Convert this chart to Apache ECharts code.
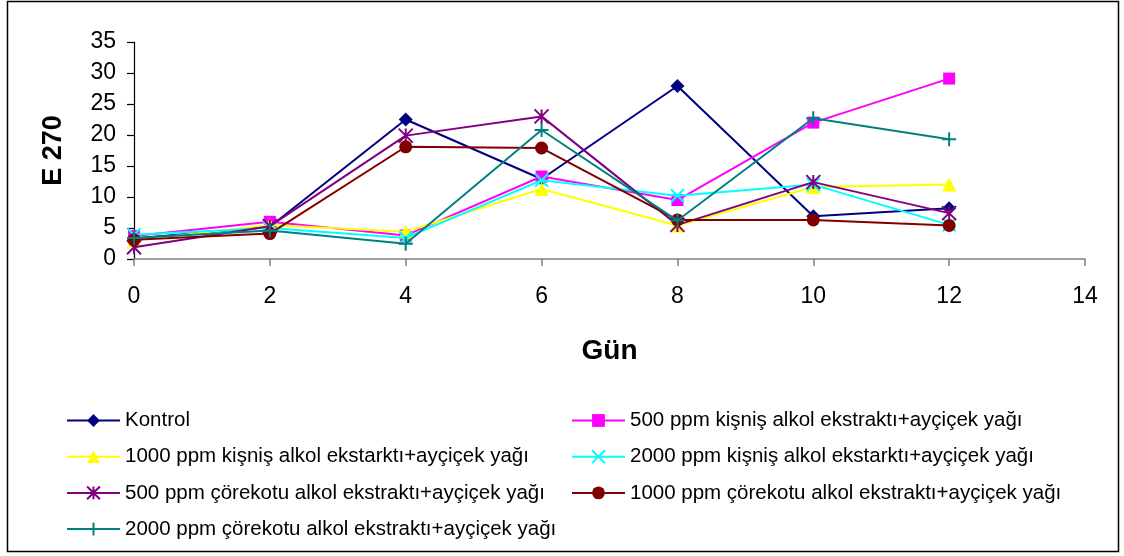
<!DOCTYPE html>
<html><head><meta charset="utf-8">
<script src="https://cdn.jsdelivr.net/npm/echarts@6/dist/echarts.min.js"></script>
<style>html,body{margin:0;padding:0;background:#fff}#c{width:1124px;height:556px}</style>
</head><body><div id="c"></div>
<script>
var days = [0, 2, 4, 6, 8, 10, 12];
var names = [
  'Kontrol',
  '500 ppm kişniş alkol ekstraktı+ayçiçek yağı',
  '1000 ppm kişniş alkol ekstarktı+ayçiçek yağı',
  '2000 ppm kişniş alkol ekstarktı+ayçiçek yağı',
  '500 ppm çörekotu alkol ekstraktı+ayçiçek yağı',
  '1000 ppm çörekotu alkol ekstraktı+ayçiçek yağı',
  '2000 ppm çörekotu alkol ekstraktı+ayçiçek yağı'
];
var kontrol = [3.3, 5.2, 22.5, 12.9, 27.9, 6.9, 8.2];
var kis500 = [3.7, 6.0, 3.8, 13.3, 9.5, 22.0, 29.1];
var kis1000 = [3.0, 5.5, 4.4, 11.3, 5.4, 11.6, 12.0];
var kis2000 = [3.9, 5.0, 3.4, 12.7, 10.2, 12.0, 5.5];
var cor500 = [1.9, 5.3, 19.9, 23.0, 5.5, 12.4, 7.4];
var cor1000 = [3.1, 4.1, 18.1, 17.9, 6.3, 6.3, 5.4];
var cor2000 = [3.4, 4.6, 2.45, 20.8, 6.2, 22.7, 19.3];
var yTicks = [0, 5, 10, 15, 20, 25, 30, 35];
var xTicks = [0, 2, 4, 6, 8, 10, 12, 14];

var values = [kontrol, kis500, kis1000, kis2000, cor500, cor1000, cor2000];
var colors = ['#000080', '#FF00FF', '#FFFF00', '#00FFFF', '#800080', '#800000', '#008080'];
var symbols = ['diamond', 'rect', 'triangle',
  'path://M0 0 L10 10 M10 0 L0 10',
  'path://M5 0 L5 10 M0 0 L10 10 M10 0 L0 10',
  'circle',
  'path://M5 0 L5 10 M0 5 L10 5'];
var sizes = [14, 12, 14, 13, 14, 13, 14];
var stroked = [false, false, false, true, true, false, true];

var series = names.map(function (n, i) {
  return {
    name: n, type: 'line',
    data: days.map(function (d, j) { return [d, values[i][j]]; }),
    symbol: symbols[i], symbolSize: sizes[i],
    showAllSymbol: true,
    lineStyle: { color: colors[i], width: 2 },
    itemStyle: { color: colors[i], borderColor: colors[i], borderWidth: stroked[i] ? 2 : 0 },
    emphasis: { disabled: true },
    animation: false,
    z: 2 + i
  };
});

var font = '"Liberation Sans", Arial, sans-serif';
var legendText = { fontFamily: font, fontSize: 20.5, color: '#000', lineHeight: 20 };
var chart = echarts.init(document.getElementById('c'));
chart.setOption({
  backgroundColor: '#fff',
  animation: false,
  grid: { left: 134, right: 39, top: 42, bottom: 297 },
  xAxis: {
    type: 'value', min: 0, max: 14, interval: 2,
    name: 'Gün', nameLocation: 'middle', nameGap: 78,
    nameTextStyle: { fontFamily: font, fontSize: 28, fontWeight: 'bold', color: '#000' },
    axisLine: { show: true, onZero: false, lineStyle: { color: '#808080', width: 1.5 } },
    axisTick: { show: true, length: 7, lineStyle: { color: '#808080', width: 1.5 } },
    axisLabel: { fontFamily: font, fontSize: 23, color: '#000', margin: 26,
      formatter: function (v) { return xTicks.indexOf(v) >= 0 ? String(v) : ''; } },
    splitLine: { show: false }
  },
  yAxis: {
    type: 'value', min: 0, max: 35, interval: 5,
    name: 'E 270', nameLocation: 'middle', nameGap: 67, nameRotate: 90,
    nameTextStyle: { fontFamily: font, fontSize: 27, fontWeight: 'bold', color: '#000' },
    axisLine: { show: true, lineStyle: { color: '#000', width: 1.2 } },
    axisTick: { show: true, length: 7, lineStyle: { color: '#000', width: 1.2 } },
    axisLabel: { fontFamily: font, fontSize: 23, color: '#000', margin: 18,
      formatter: function (v) { return yTicks.indexOf(v) >= 0 ? String(v) : ''; } },
    splitLine: { show: false }
  },
  legend: [
    { data: [names[0], names[2], names[4], names[6]], orient: 'vertical',
      left: 61, top: 405, itemWidth: 53, itemHeight: 16, itemGap: 15.2,
      textStyle: legendText, selectedMode: false },
    { data: [names[1], names[3], names[5]], orient: 'vertical',
      left: 566, top: 405, itemWidth: 53, itemHeight: 16, itemGap: 15.2,
      textStyle: legendText, selectedMode: false }
  ],
  graphic: [{
    type: 'rect', shape: { x: 7.5, y: 1.5, width: 1111, height: 550 },
    style: { fill: null, stroke: '#000', lineWidth: 1.5 }, silent: true, z: 100
  }],
  series: series
});
</script></body></html>
